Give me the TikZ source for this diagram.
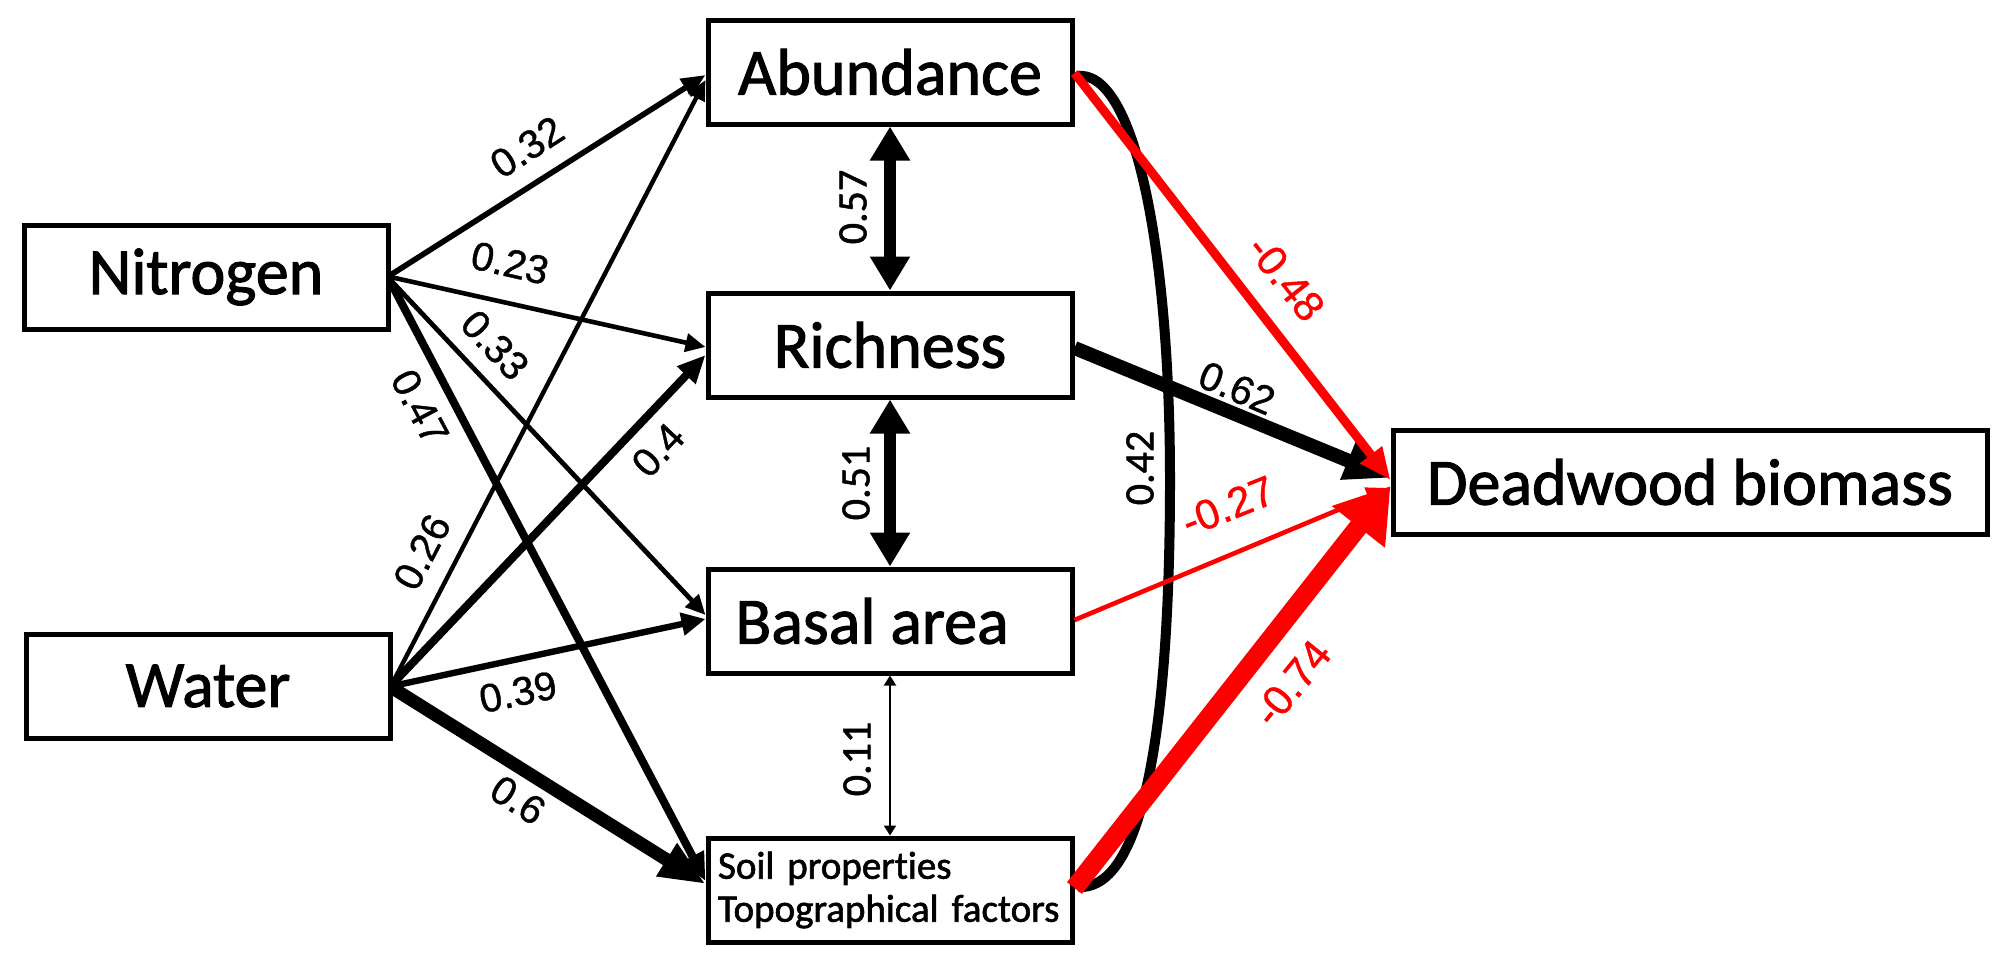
\documentclass[tikz,border=0pt]{standalone}
\usepackage{fontspec}
\setmainfont[RawFeature=-liga,FakeBold=1.6]{Carlito}
\newfontfamily\labfont[FakeBold=1]{Liberation Sans}
\newfontfamily\vfont[RawFeature=-liga,FakeBold=1.2]{Carlito}
\usetikzlibrary{arrows.meta,calc}
\definecolor{pathred}{RGB}{255,0,0}
\begin{document}
\begin{tikzpicture}[x=0.5pt,y=-0.5pt,
  box/.style={draw,line width=2.5pt,minimum width=182pt,minimum height=52pt,inner sep=0pt,font=\fontsize{33}{36}\selectfont},
  lbl/.style={font=\labfont\fontsize{20}{21}\selectfont,inner sep=0pt},
  rlbl/.style={font=\labfont\fontsize{21}{22}\selectfont,inner sep=0pt,text=pathred},
  vlbl/.style={font=\vfont\fontsize{21}{22}\selectfont,inner sep=0pt,rotate=90},
  pth/.style={line width=#1},
  hd/.style 2 args={-{Triangle[length=#1pt,width=#2pt]}},
  dbl/.style 2 args={{Triangle[length=#1pt,width=#2pt]}-{Triangle[length=#1pt,width=#2pt]}},
]
\useasboundingbox (0,0) rectangle (2007,965);
% boxes
\node[box] (nit) at (206,277) {Nitrogen};
\node[box] (wat) at (208,686) {Water};
\node[box] (abu) at (890,72) {Abundance};
\node[box] (ric) at (890,345) {Richness};
\node[box] (bas) at (890,621) {Basal area\hspace*{18pt}};
\node[box,font=\fontsize{19.5}{21.5}\selectfont,align=left,text width=172pt,inner xsep=5pt] (soil) at (890,890) {Soil properties\\Topographical factors};
\node[box,minimum width=297pt] (dead) at (1690,482) {Deadwood biomass};
% paths from Nitrogen
\draw[pth=2.8pt,hd={12}{10}] ($(nit.east)+(0,-2)$) -- ($(abu.west)+(0,3)$);
\draw[pth=2.3pt,hd={10}{9}] (nit.east) -- ($(ric.west)+(0,2)$);
\draw[pth=2.4pt,hd={10}{9}] ($(nit.east)+(0,3)$) -- ($(bas.west)+(0,-6)$);
\draw[pth=4pt,hd={14}{12}] ($(nit.east)+(0,5)$) -- ($(soil.west)+(0,-9)$);
% paths from Water
\draw[pth=2.2pt,hd={10}{9}] ($(wat.east)+(0,-3)$) -- ($(abu.west)+(0,8)$);
\draw[pth=4pt,hd={14}{12}] ($(wat.east)+(0,-2)$) -- ($(ric.west)+(0,10)$);
\draw[pth=3.2pt,hd={12}{11}] (wat.east) -- ($(bas.west)+(0,-2)$);
\draw[pth=6.5pt,hd={23}{18}] ($(wat.east)+(0,2)$) -- ($(soil.west)+(0,-6)$);
% correlations
\draw[pth=6pt,dbl={17}{19}] (abu.south) -- (ric.north);
\draw[pth=6pt,dbl={17}{19}] (ric.south) -- (bas.north);
\draw[pth=1pt,dbl={5}{6}] (bas.south) -- (soil.north);
\draw[line width=5pt] ($(abu.east)+(2,4)$) .. controls (1135,68) and (1170,250) .. (1170,480)
  .. controls (1170,720) and (1145,890) .. ($(soil.east)+(4,-3)$);
% to Deadwood
\draw[pth=7pt,hd={23}{19}] ($(ric.east)+(0,3)$) -- ($(dead.west)+(0,-4)$);
\draw[pathred,pth=4.5pt,hd={16}{13}] ($(abu.east)+(0,1)$) -- ($(dead.west)+(0,-2)$);
\draw[pathred,pth=2.3pt,hd={12}{10}] ($(bas.east)+(0,-1)$) -- ($(dead.west)+(0,6)$);
\draw[pathred,pth=9.5pt,hd={26}{32}] ($(soil.east)+(0,-2)$) -- ($(dead.west)+(0,4)$);
% labels
\node[lbl,rotate=33] (l32) at (527,147) {0.32};
\node[lbl,rotate=-12.8] (l23) at (510,263) {0.23};
\node[lbl,rotate=-47] (l33) at (495,345) {0.33};
\node[lbl,rotate=-62] (l47) at (420,407) {0.47};
\node[lbl,rotate=62.6] (l26) at (422,552) {0.26};
\node[lbl,rotate=47] (l40) at (658,450) {0.4};
\node[lbl,rotate=11.7] (l39) at (518,692) {0.39};
\node[lbl,rotate=-32.7] (l60) at (518,800) {0.6};
\node[vlbl] (l57) at (853,207) {0.57};
\node[vlbl] (l51) at (856,483) {0.51};
\node[vlbl] (l11) at (857,759) {0.11};
\node[vlbl] (l42) at (1140,468) {0.42};
\node[lbl,rotate=-23] (l62) at (1237,388) {0.62};
\node[rlbl,rotate=-51.5] (l48) at (1286,278) {-0.48};
\node[rlbl,rotate=21.7] (l27) at (1228,506) {-0.27};
\node[rlbl,rotate=51] (l74) at (1292,683) {-0.74};
\end{tikzpicture}
\end{document}
